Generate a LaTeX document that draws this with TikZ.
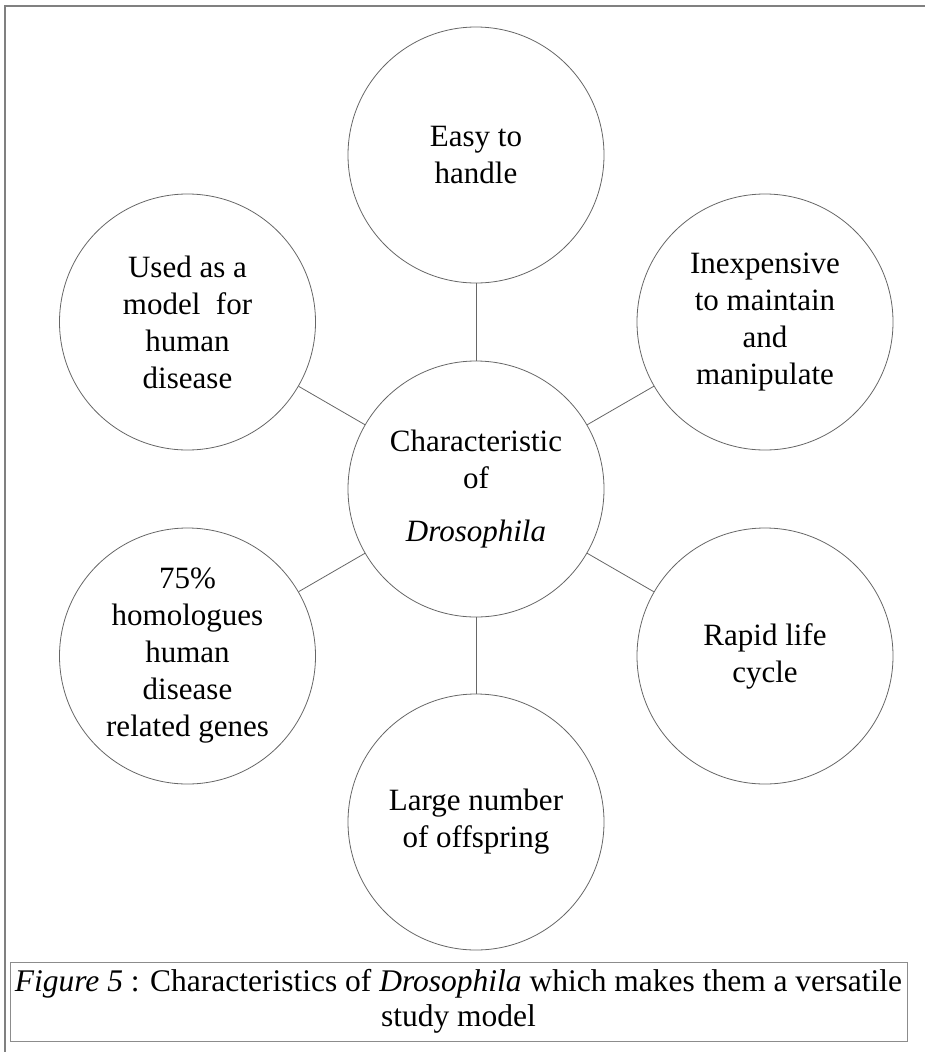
\documentclass[tikz,border=0pt]{standalone}
\usepackage{fontspec}
\setmainfont{Liberation Serif}
\begin{document}
\begin{tikzpicture}[x=1pt,y=-1pt,
  bubble/.style={circle,draw=black!60,line width=0.8pt,minimum size=256pt,inner sep=0pt,align=center,
     font=\fontsize{31}{37}\selectfont},
  link/.style={draw=black!60,line width=0.8pt},
  capbox/.style={draw=black!45,line width=0.8pt,minimum width=897pt,minimum height=79pt,inner sep=0pt,align=center,
     font=\fontsize{31.5}{35}\selectfont},
  frame/.style={draw=black!50,line width=1.5pt}]
\useasboundingbox (0,0) rectangle (925,1052);
\coordinate (ftl) at (5,6);
\coordinate (ftr) at (925,6);
\coordinate (fbl) at (5,1052);
\path[frame] (ftr) -- (ftl) -- (fbl);

\node[bubble] (c) at (476,489) {Characteristic\\of\\[16pt]\textit{Drosophila}};
\node[bubble] (t) at (476,155) {Easy to\\handle};
\node[bubble] (ul) at (187.5,322) {Used as a\\model\ \ for\\human\\disease};
\node[bubble] (ur) at (765,322) {Inexpensive\\to maintain\\and\\manipulate};
\node[bubble] (ll) at (187.5,656) {75\%\\homologues\\human\\disease\\related genes};
\node[bubble] (lr) at (765,656) {Rapid life\\cycle};
\node[bubble] (b) at (476,822) {Large number\\of offspring};

\foreach \n in {t,ul,ur,ll,lr,b} \path[link] (c) -- (\n);

\node[capbox] (cap) at (458.5,1001.5) {\textit{Figure 5} : Characteristics of \textit{Drosophila} which makes them a versatile\\study model};
\end{tikzpicture}
\end{document}
